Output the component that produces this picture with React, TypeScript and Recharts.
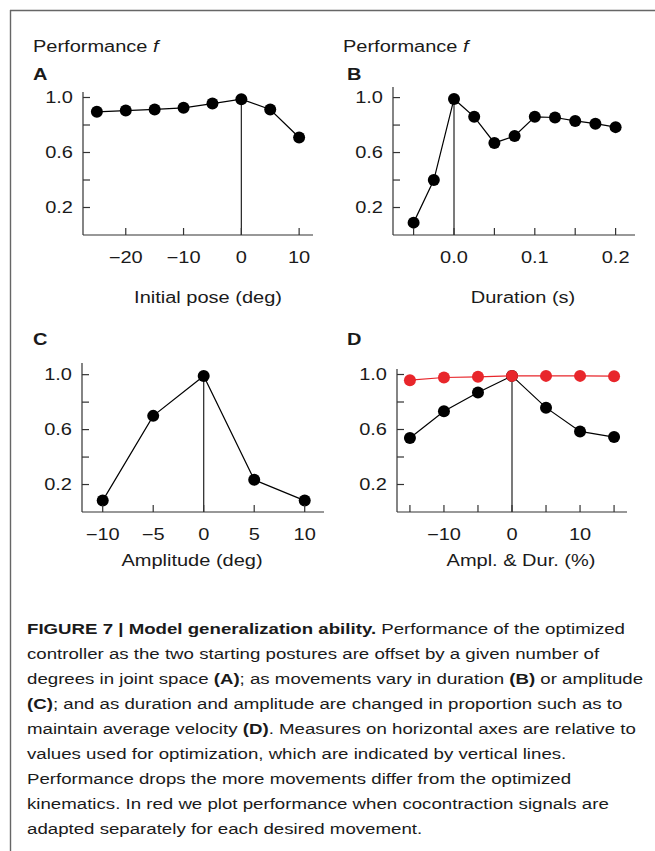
import React from "react";
import { LineChart, Line, XAxis, YAxis, ReferenceLine } from "recharts";

// ---------- data ----------
const poseX = [-25, -20, -15, -10, -5, 0, 5, 10];
const poseF = [0.896, 0.905, 0.913, 0.925, 0.956, 0.988, 0.913, 0.709];

const durX = [-0.05, -0.025, 0, 0.025, 0.05, 0.075, 0.1, 0.125, 0.15, 0.175, 0.2];
const durF = [0.09, 0.4, 0.99, 0.86, 0.67, 0.72, 0.86, 0.855, 0.83, 0.81, 0.785];

const ampX = [-10, -5, 0, 5, 10];
const ampF = [0.083, 0.7, 0.99, 0.234, 0.083];

const propX = [-15, -10, -5, 0, 5, 10, 15];
const propF = [0.538, 0.732, 0.869, 0.99, 0.759, 0.586, 0.545];
const propAdaptedF = [0.959, 0.978, 0.983, 0.99, 0.99, 0.99, 0.988];

const yTicks = [0.2, 0.4, 0.6, 0.8, 1.0];
const yTickLabels = ["0.2", "", "0.6", "", "1.0"];

const poseTicks = [-20, -10, 0, 10];
const poseTickLabels = ["\u221220", "\u221210", "0", "10"];
const durTicks = [-0.05, 0, 0.05, 0.1, 0.15, 0.2];
const durTickLabels = ["", "0.0", "", "0.1", "", "0.2"];
const ampTicks = [-10, -5, 0, 5, 10];
const ampTickLabels = ["\u221210", "\u22125", "0", "5", "10"];
const propTicks = [-15, -10, -5, 0, 5, 10, 15];
const propTickLabels = ["", "\u221210", "", "0", "", "10", ""];

const captionLines: Array<Array<[string, boolean]>> = [
  [["FIGURE 7 | Model generalization ability.", true], [" Performance of the optimized", false]],
  [["controller as the two starting postures are offset by a given number of", false]],
  [["degrees in joint space ", false], ["(A)", true], ["; as movements vary in duration ", false], ["(B)", true], [" or amplitude", false]],
  [["(C)", true], ["; and as duration and amplitude are changed in proportion such as to", false]],
  [["maintain average velocity ", false], ["(D)", true], [". Measures on horizontal axes are relative to", false]],
  [["values used for optimization, which are indicated by vertical lines.", false]],
  [["Performance drops the more movements differ from the optimized", false]],
  [["kinematics. In red we plot performance when cocontraction signals are", false]],
  [["adapted separately for each desired movement.", false]],
];

// ---------- styles ----------
const FONT = "'Liberation Sans', Arial, Helvetica, sans-serif";
const SX = 1.25;
const AXIS = "#333";
const RED = "#e8262b";
const TXT = "#1a1a1a";

const makeYTick = (labels: string[]) => (props: any) => {
  const { x, y, index } = props;
  const lab = labels[index];
  return (
    <g transform={`translate(${x},${y})`}>
      <line x1={0} x2={7} y1={0} y2={0} stroke={AXIS} strokeWidth={1.2} />
      {lab ? (
        <text
          transform={`scale(${SX},1)`}
          x={-10 / SX}
          y={0}
          dy="0.36em"
          textAnchor="end"
          fontSize={16}
          fontFamily={FONT}
          fill={TXT}
        >
          {lab}
        </text>
      ) : null}
    </g>
  );
};

const makeXTick = (labels: string[]) => (props: any) => {
  const { x, y, index } = props;
  const lab = labels[index];
  return (
    <g transform={`translate(${x},${y})`}>
      <line x1={0} x2={0} y1={0} y2={-7} stroke={AXIS} strokeWidth={1.2} />
      {lab ? (
        <text
          transform={`scale(${SX},1)`}
          x={0}
          y={28}
          textAnchor="middle"
          fontSize={16}
          fontFamily={FONT}
          fill={TXT}
        >
          {lab}
        </text>
      ) : null}
    </g>
  );
};

type PanelProps = {
  left: number;
  top: number;
  width: number;
  height: number;
  margin: { top: number; right: number; bottom: number; left: number };
  xs: number[];
  f: number[];
  g?: number[];
  xDomain: [number, number];
  yMax: number;
  xTicks: number[];
  xLabels: string[];
};

const Panel = (p: PanelProps) => {
  const data = p.xs.map((x, i) => ({ x, f: p.f[i], g: p.g ? p.g[i] : undefined }));
  const zeroIdx = p.xs.indexOf(0);
  const zeroVal = p.f[zeroIdx];
  const m = {
    top: p.margin.top,
    right: p.margin.right,
    bottom: p.margin.bottom - 1,
    left: p.margin.left - 1,
  };
  return (
    <div style={{ position: "absolute", left: p.left, top: p.top }}>
      <LineChart width={p.width} height={p.height} data={data} margin={m}>
        <XAxis
          dataKey="x"
          type="number"
          domain={p.xDomain}
          allowDataOverflow
          ticks={p.xTicks}
          interval={0}
          height={1}
          tickSize={0}
          tickMargin={0}
          tickLine={false}
          axisLine={{ stroke: AXIS, strokeWidth: 1.2 }}
          tick={makeXTick(p.xLabels)}
        />
        <YAxis
          type="number"
          domain={[0, p.yMax]}
          allowDataOverflow
          ticks={yTicks}
          interval={0}
          width={1}
          tickSize={0}
          tickMargin={0}
          tickLine={false}
          axisLine={{ stroke: AXIS, strokeWidth: 1.2 }}
          tick={makeYTick(yTickLabels)}
        />
        <ReferenceLine
          segment={[
            { x: 0, y: 0 },
            { x: 0, y: zeroVal },
          ]}
          stroke="#222"
          strokeWidth={1.2}
        />
        <Line
          dataKey="f"
          stroke="#000"
          strokeWidth={1.2}
          dot={{ r: 6, fill: "#000", stroke: "none" }}
          activeDot={false}
          isAnimationActive={false}
        />
        {p.g ? (
          <Line
            dataKey="g"
            stroke={RED}
            strokeWidth={1.2}
            dot={{ r: 6, fill: RED, stroke: "none" }}
            activeDot={false}
            isAnimationActive={false}
          />
        ) : null}
      </LineChart>
    </div>
  );
};

const SText = ({ x, y, children, anchor = "start", bold = false }: any) => (
  <text
    transform={`translate(${x},${y}) scale(${SX},1)`}
    textAnchor={anchor}
    fontSize={16}
    fontWeight={bold ? "bold" : "normal"}
    fontFamily={FONT}
    fill={TXT}
  >
    {children}
  </text>
);

export default function App() {
  return (
    <div
      style={{
        position: "absolute",
        left: 0,
        top: 0,
        width: 655,
        height: 851,
        background: "#fff",
        overflow: "hidden",
      }}
    >
      <Panel
        left={20}
        top={60}
        width={310}
        height={260}
        margin={{ top: 32, right: 17, bottom: 85, left: 63 }}
        xs={poseX}
        f={poseF}
        xDomain={[-27.4, 12.4]}
        yMax={1.04}
        xTicks={poseTicks}
        xLabels={poseTickLabels}
      />
      <Panel
        left={330}
        top={60}
        width={320}
        height={260}
        margin={{ top: 27, right: 15, bottom: 85, left: 63 }}
        xs={durX}
        f={durF}
        xDomain={[-0.0755, 0.224]}
        yMax={1.077}
        xTicks={durTicks}
        xLabels={durTickLabels}
      />
      <Panel
        left={20}
        top={330}
        width={310}
        height={260}
        margin={{ top: 33, right: 6, bottom: 78, left: 62 }}
        xs={ampX}
        f={ampF}
        xDomain={[-12.05, 11.91]}
        yMax={1.085}
        xTicks={ampTicks}
        xLabels={ampTickLabels}
      />
      <Panel
        left={330}
        top={330}
        width={320}
        height={260}
        margin={{ top: 39, right: 23, bottom: 78, left: 67 }}
        xs={propX}
        f={propF}
        g={propAdaptedF}
        xDomain={[-16.9, 16.9]}
        yMax={1.04}
        xTicks={propTicks}
        xLabels={propTickLabels}
      />
      <svg
        width={655}
        height={851}
        style={{ position: "absolute", left: 0, top: 0, pointerEvents: "none" }}
      >
        <line x1={10} y1={10.5} x2={655} y2={10.5} stroke="#666" strokeWidth={1.4} />
        <line x1={10.5} y1={10} x2={10.5} y2={851} stroke="#666" strokeWidth={1.4} />

        <SText x={33} y={52}>
          Performance <tspan fontStyle="italic">f</tspan>
        </SText>
        <SText x={343} y={52}>
          Performance <tspan fontStyle="italic">f</tspan>
        </SText>
        <SText x={33} y={80} bold>A</SText>
        <SText x={347} y={80} bold>B</SText>
        <SText x={33} y={345} bold>C</SText>
        <SText x={347} y={345} bold>D</SText>

        <SText x={208} y={303} anchor="middle">Initial pose (deg)</SText>
        <SText x={523} y={303} anchor="middle">Duration (s)</SText>
        <SText x={192} y={566} anchor="middle">Amplitude (deg)</SText>
        <SText x={521} y={566} anchor="middle">Ampl. &amp; Dur. (%)</SText>

        {captionLines.map((parts, i) => (
          <text
            key={i}
            transform={`translate(27,${634 + 25 * i}) scale(1.245,1)`}
            fontSize={15}
            fontFamily={FONT}
            fill={TXT}
          >
            {parts.map(([s, b], j) => (
              <tspan key={j} fontWeight={b ? "bold" : "normal"}>
                {s}
              </tspan>
            ))}
          </text>
        ))}
      </svg>
    </div>
  );
}
